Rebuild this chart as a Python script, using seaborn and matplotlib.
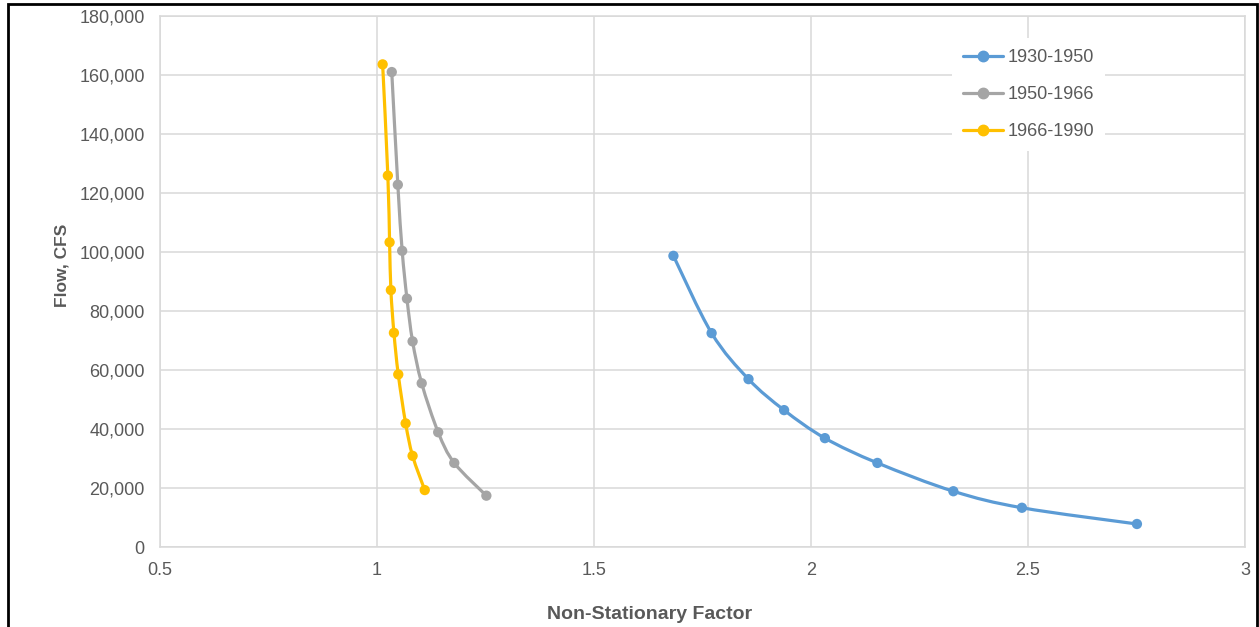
"""
Non-stationary factor vs. flow curves (Excel-style smoothed scatter).
"""
import matplotlib
matplotlib.use("Agg")
import matplotlib.pyplot as plt
from matplotlib.path import Path
from matplotlib.patches import PathPatch, Rectangle
from matplotlib.lines import Line2D
from matplotlib.ticker import FuncFormatter, MultipleLocator
import seaborn as sns
import pandas as pd
import numpy as np

# Data
periods = ['1930-1950', '1950-1966', '1966-1990']

factor_1930 = [1.683, 1.771, 1.856, 1.938, 2.032, 2.153, 2.328, 2.486, 2.751]
flow_1930 = [98700, 72500, 56900, 46400, 36900, 28500, 18900, 13300, 7800]

factor_1950 = [1.034, 1.048, 1.058, 1.069, 1.082, 1.103, 1.141, 1.178, 1.252]
flow_1950 = [161000, 122800, 100400, 84200, 69700, 55500, 38900, 28500, 17400]

factor_1966 = [1.013, 1.025, 1.029, 1.032, 1.039, 1.049, 1.066, 1.082, 1.110]
flow_1966 = [163600, 125900, 103300, 87100, 72600, 58500, 41900, 30900, 19300]

colors = ['#5B9BD5', '#A5A5A5', '#FFC000']

series = [(factor_1930, flow_1930), (factor_1950, flow_1950), (factor_1966, flow_1966)]

df = pd.concat(
    [pd.DataFrame({'factor': fx, 'flow': fy, 'period': p})
     for p, (fx, fy) in zip(periods, series)],
    ignore_index=True,
)


def smooth_path(xs, ys, tension=1 / 6):
    """Curva tipo Excel (Catmull-Rom como Bezier cubica) a traves de los puntos."""
    pts = np.column_stack([xs, ys]).astype(float)
    n = len(pts)
    verts = [pts[0]]
    codes = [Path.MOVETO]
    for i in range(n - 1):
        p0 = pts[max(i - 1, 0)]
        p1 = pts[i]
        p2 = pts[i + 1]
        p3 = pts[min(i + 2, n - 1)]
        verts += [p1 + (p2 - p0) * tension, p2 - (p3 - p1) * tension, p2]
        codes += [Path.CURVE4] * 3
    return Path(verts, codes)


sns.set_style('white')
plt.rcParams['font.family'] = ['Liberation Sans', 'DejaVu Sans']

text_color = '#595959'
grid_color = '#d9d9d9'

fig = plt.figure(figsize=(12.59, 6.27), dpi=100)
ax = fig.add_axes([160 / 1259, 80 / 627, 1085 / 1259, 531 / 627])

# smoothed lines
for (fx, fy), c in zip(series, colors):
    ax.add_patch(PathPatch(smooth_path(fx, fy), facecolor='none', edgecolor=c,
                           lw=2.3, capstyle='round', joinstyle='round', zorder=3))

# markers
sns.scatterplot(data=df, x='factor', y='flow', hue='period', palette=colors,
                s=55, edgecolor='none', legend=False, ax=ax, zorder=4)

ax.set_xlim(0.5, 3)
ax.set_ylim(0, 180000)
ax.xaxis.set_major_locator(MultipleLocator(0.5))
ax.yaxis.set_major_locator(MultipleLocator(20000))
ax.xaxis.set_major_formatter(FuncFormatter(lambda v, _: f'{v:g}'))
ax.yaxis.set_major_formatter(FuncFormatter(lambda v, _: f'{v:,.0f}'))

ax.grid(True, color=grid_color, lw=1.1)
ax.set_axisbelow(True)
for s in ax.spines.values():
    s.set_color(grid_color)
    s.set_linewidth(1.1)

ax.tick_params(axis='both', length=0, labelsize=13, colors=text_color, pad=11)

ax.set_xlabel('Non-Stationary Factor', fontsize=14, weight='bold', color=text_color)
ax.set_ylabel('Flow, CFS', fontsize=12.5, weight='bold', color=text_color)
ax.xaxis.set_label_coords(0.451, -0.111)
ax.yaxis.set_label_coords(-0.083, 0.53)

handles = [Line2D([], [], color=c, lw=2.3, marker='o', markersize=7.5) for c in colors]
leg = ax.legend(handles, periods, loc='upper left', bbox_to_anchor=(0.722, 0.975),
                fontsize=13, frameon=True, facecolor='white', edgecolor='none',
                framealpha=1, labelspacing=1.1, handlelength=2.2,
                handletextpad=0.25, borderpad=0.6)
for t in leg.get_texts():
    t.set_color(text_color)

# marco negro de la captura
fig.patches.append(Rectangle((8 / 1259, -0.02), 1249 / 1259, 1.02 - 4 / 627,
                             transform=fig.transFigure, fill=False,
                             edgecolor='black', lw=2, zorder=10))

fig.savefig('out.png', dpi=100)
plt.close(fig)
